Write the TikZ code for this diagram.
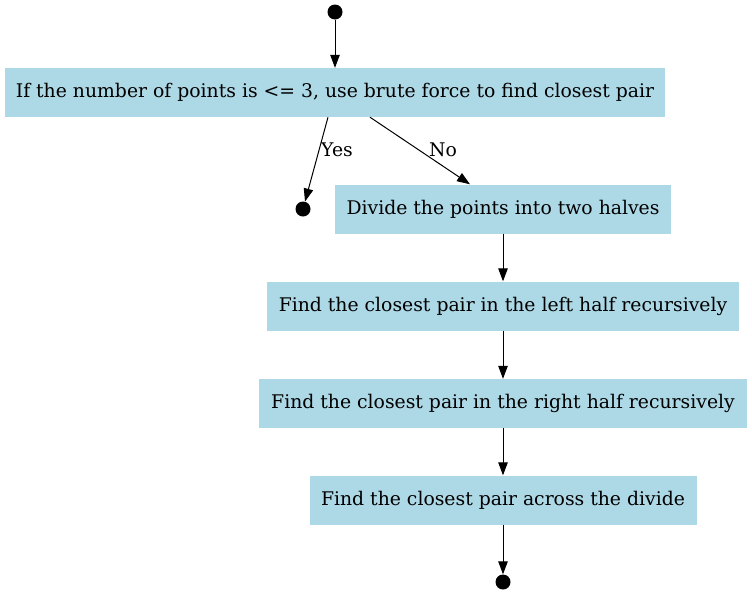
\documentclass[tikz,border=0pt]{standalone}
\usepackage{fontspec}
\setmainfont{DejaVu Serif}
\usetikzlibrary{arrows.meta,positioning}
\definecolor{boxblue}{HTML}{ADD8E6}
\begin{document}
\begin{tikzpicture}[x=1pt,y=1pt,
  stepbox/.style={fill=boxblue,draw=none,minimum height=49pt,inner xsep=10pt,font=\fontsize{18.8}{22}\selectfont},
  dotnode/.style={circle,fill=black,minimum size=15pt,inner sep=0pt},
  arr/.style={-{Triangle[length=13pt,width=9.5pt]},line width=1pt},
  lbl/.style={font=\fontsize{18.8}{22}\selectfont,inner sep=0pt}]
\useasboundingbox (0,0) rectangle (752,-595);
\node[dotnode] (start) at (335,-12) {};
\node[stepbox,minimum width=660pt] (top) at (335,-92.5) {If the number of points is <= 3, use brute force to find closest pair};
\node[dotnode] (yesend) at (303,-209) {};
\node[stepbox,minimum width=336pt] (divide) at (503,-209) {Divide the points into two halves};
\node[stepbox,minimum width=472pt] (left) at (503,-306) {Find the closest pair in the left half recursively};
\node[stepbox,minimum width=488pt] (right) at (503,-403.5) {Find the closest pair in the right half recursively};
\node[stepbox,minimum width=387pt] (across) at (503,-500) {Find the closest pair across the divide};
\node[dotnode] (finish) at (503,-582) {};
\draw[arr] (start) -- (top);
\draw[arr] ([xshift=-7pt]top.south) -- (yesend);
\draw[arr] ([xshift=35pt]top.south) -- ([xshift=-33pt]divide.north);
\node[lbl] (yeslbl) at (337,-150) {Yes};
\node[lbl] (nolbl) at (443,-150) {No};
\draw[arr] (divide) -- (left);
\draw[arr] (left) -- (right);
\draw[arr] (right) -- (across);
\draw[arr] (across) -- (finish);
\end{tikzpicture}
\end{document}
